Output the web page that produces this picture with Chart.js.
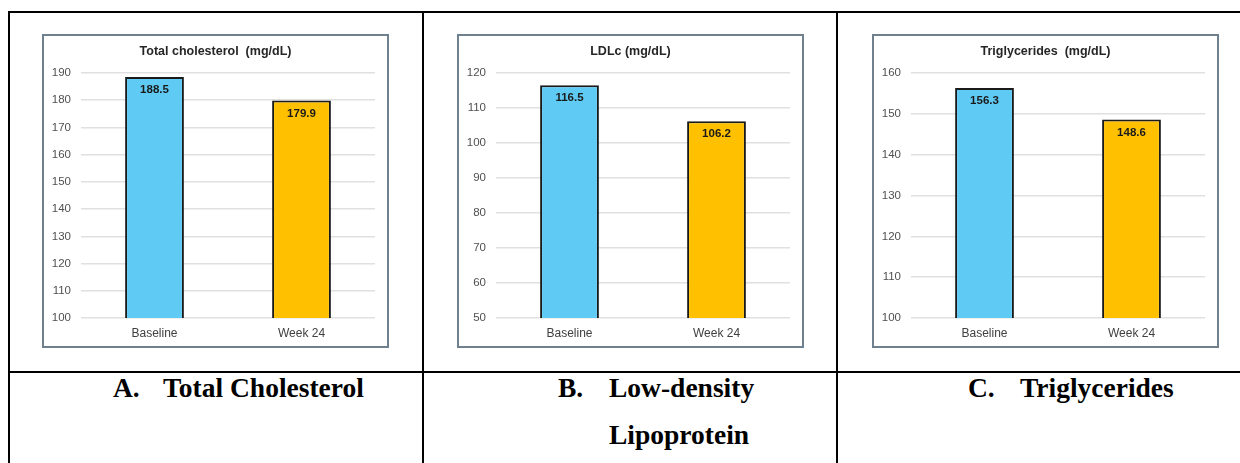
<!DOCTYPE html>
<html>
<head>
<meta charset="utf-8">
<script src="https://cdn.jsdelivr.net/npm/chart.js@4.4.1/dist/chart.umd.min.js"></script>
<style>
  html, body { margin: 0; padding: 0; background: #ffffff; }
  #page { position: relative; width: 1240px; height: 463px; overflow: hidden; background: #ffffff; }
  .rule { position: absolute; background: #000000; }
  .frame { position: absolute; top: 34px; width: 347px; height: 314px; box-sizing: border-box;
           border: 2px solid #6f818f; background: #ffffff; }
  .frame canvas { display: block; }
  .cap { position: absolute; font-family: "Times New Roman", "Liberation Serif", serif; font-weight: bold;
         font-size: 27.5px; line-height: 47px; color: #000000; white-space: nowrap; }
</style>
</head>
<body>
<div id="page">
  <!-- table rules -->
  <div class="rule" style="left:8px; top:11px; width:1232px; height:2px;"></div>
  <div class="rule" style="left:8px; top:11px; width:2px; height:452px;"></div>
  <div class="rule" style="left:422px; top:11px; width:2px; height:452px;"></div>
  <div class="rule" style="left:836px; top:11px; width:2px; height:452px;"></div>
  <div class="rule" style="left:8px; top:371px; width:1232px; height:2px;"></div>

  <div class="frame" style="left:42px;"><canvas id="chartA" width="343" height="310"></canvas></div>
  <div class="frame" style="left:457px;"><canvas id="chartB" width="343" height="310"></canvas></div>
  <div class="frame" style="left:872px;"><canvas id="chartC" width="343" height="310"></canvas></div>

  <!-- panel captions -->
  <div class="cap" style="left:113px; top:364px;">A.</div>
  <div class="cap" style="left:163px; top:364px;">Total Cholesterol</div>
  <div class="cap" style="left:558px; top:364px;">B.</div>
  <div class="cap" style="left:609px; top:364px;">Low-density<br>Lipoprotein</div>
  <div class="cap" style="left:968px; top:364px;">C.</div>
  <div class="cap" style="left:1020px; top:364px;">Triglycerides</div>
</div>

<script>
// Visits compared in every panel
const categories = ['Baseline', 'Week 24'];

// Mean values per visit
const cholesterolValues = [188.5, 179.9];
const ldlValues = [116.5, 106.2];
const triglycerideValues = [156.3, 148.6];

// Panel titles
const cholesterolTitle = 'Total cholesterol  (mg/dL)';
const ldlTitle = 'LDLc (mg/dL)';
const triglycerideTitle = 'Triglycerides  (mg/dL)';

// Y-axis ranges: [min, max, step]
const cholesterolAxis = [100, 190, 10];
const ldlAxis = [50, 120, 10];
const triglycerideAxis = [100, 160, 10];

const barColors = ['#5fcaf3', '#ffc000'];

const sansFont = '"Liberation Sans", Arial, sans-serif';

// Draws the panel title and the value printed inside the top of each bar
const labelPlugin = {
  id: 'panelLabels',
  afterDatasetsDraw(chart, args, opts) {
    const ctx = chart.ctx;
    ctx.save();
    ctx.fillStyle = '#262626';
    ctx.font = 'bold 12.5px ' + sansFont;
    ctx.textAlign = 'center';
    ctx.textBaseline = 'middle';
    ctx.fillText(opts.title, chart.width / 2, 16);

    ctx.fillStyle = '#1a1a1a';
    ctx.font = 'bold 11.5px ' + sansFont;
    const meta = chart.getDatasetMeta(0);
    const values = chart.data.datasets[0].data;
    meta.data.forEach((bar, i) => {
      ctx.fillText(values[i].toFixed(1), bar.x, bar.y + 13);
    });
    ctx.restore();
  }
};

function makePanel(canvasId, title, values, axis) {
  return new Chart(document.getElementById(canvasId), {
    type: 'bar',
    data: {
      labels: categories,
      datasets: [{
        data: values,
        backgroundColor: barColors,
        borderColor: '#1a1a1a',
        borderWidth: 2,
        barPercentage: 0.4,
        categoryPercentage: 1.0
      }]
    },
    options: {
      responsive: false,
      animation: false,
      devicePixelRatio: 1,
      layout: { padding: { top: 37, right: 12, left: 0, bottom: 0 } },
      plugins: {
        legend: { display: false },
        tooltip: { enabled: false },
        panelLabels: { title: title }
      },
      scales: {
        x: {
          grid: { display: false, drawTicks: false },
          border: { display: false },
          ticks: { color: '#404040', font: { family: sansFont, size: 12 }, padding: 8 },
          afterFit(scale) { scale.height = 28; }
        },
        y: {
          min: axis[0],
          max: axis[1],
          grid: { color: '#e0e0e0', lineWidth: 1.5, drawTicks: false },
          border: { display: false },
          ticks: { stepSize: axis[2], color: '#505050', font: { family: sansFont, size: 11.5 }, padding: 10 },
          afterFit(scale) { scale.width = 37; }
        }
      }
    },
    plugins: [labelPlugin]
  });
}

makePanel('chartA', cholesterolTitle, cholesterolValues, cholesterolAxis);
makePanel('chartB', ldlTitle, ldlValues, ldlAxis);
makePanel('chartC', triglycerideTitle, triglycerideValues, triglycerideAxis);
</script>
</body>
</html>
